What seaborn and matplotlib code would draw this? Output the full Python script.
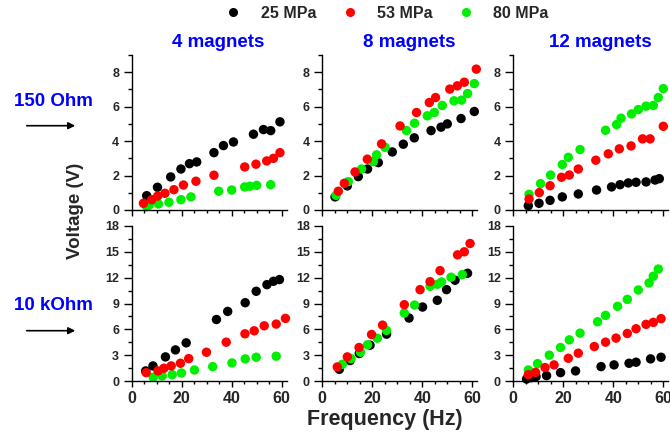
import matplotlib
matplotlib.use('Agg')
import pandas as pd
import seaborn as sns
import matplotlib.pyplot as plt
from matplotlib.lines import Line2D
from matplotlib.ticker import MultipleLocator

pressures = ['25 MPa', '53 MPa', '80 MPa']
colors = ['#000000', '#ff0000', '#00ee00']
magnets = ['4 magnets', '8 magnets', '12 magnets']
loads = ['150 Ohm', '10 kOhm']

# ---- 150 Ohm ----
hz_150_4_25 = [6, 10.3, 15.6, 19.7, 23.1, 26, 32.9, 36.7, 40.7, 48.7, 52.7, 55.6, 59.3]
v_150_4_25 = [0.83, 1.32, 1.92, 2.38, 2.69, 2.79, 3.33, 3.74, 3.95, 4.40, 4.67, 4.61, 5.12]
hz_150_4_53 = [4.7, 8, 10.4, 13.3, 16.9, 20.7, 25.7, 32.9, 45.2, 49.7, 54, 56.7, 59.3]
v_150_4_53 = [0.39, 0.6, 0.81, 0.97, 1.18, 1.45, 1.67, 2.02, 2.5, 2.66, 2.85, 3.0, 3.33]
hz_150_4_80 = [6, 7, 10.7, 14.9, 19.7, 23.7, 34.8, 40, 45.2, 47.3, 50, 55.6]
v_150_4_80 = [0.19, 0.29, 0.35, 0.45, 0.6, 0.76, 1.09, 1.16, 1.34, 1.38, 1.43, 1.47]

hz_150_8_25 = [5.1, 10, 14.4, 18.1, 22.4, 28, 32.4, 36.8, 43.5, 47.5, 50, 55.5, 60.8]
v_150_8_25 = [0.76, 1.40, 1.94, 2.38, 2.75, 3.37, 3.82, 4.19, 4.61, 4.81, 5.0, 5.31, 5.72]
hz_150_8_53 = [6.4, 8.8, 13.1, 18, 23.7, 31.1, 37.7, 42.8, 45.3, 51, 54, 56.8, 61.6]
v_150_8_53 = [1.09, 1.55, 2.21, 2.95, 3.84, 4.88, 5.66, 6.24, 6.53, 7.02, 7.21, 7.42, 8.18]
hz_150_8_80 = [5.5, 10.4, 15.7, 20.4, 21.7, 25.1, 33.7, 36.9, 42, 44.8, 48, 52.7, 55.7, 58.1, 60.8]
v_150_8_80 = [0.85, 1.65, 2.38, 2.81, 3.2, 3.64, 4.61, 5.04, 5.47, 5.66, 6.07, 6.34, 6.38, 6.76, 7.34]

hz_150_12_25 = [6, 10.3, 14.7, 19.6, 26, 33.3, 39.3, 42.7, 46, 49.1, 53.1, 56.7, 58.4]
v_150_12_25 = [0.25, 0.39, 0.56, 0.76, 0.93, 1.16, 1.34, 1.47, 1.57, 1.61, 1.63, 1.74, 1.82]
hz_150_12_53 = [6.3, 10.4, 14.7, 19.3, 22.4, 26, 33, 38, 42.4, 47.1, 51.7, 54.7, 60]
v_150_12_53 = [0.64, 1.01, 1.41, 1.9, 2.03, 2.38, 2.89, 3.26, 3.55, 3.72, 4.13, 4.13, 4.86]
hz_150_12_80 = [6.3, 10.9, 14.9, 19.6, 22, 26.7, 36.9, 41.3, 43.1, 47.3, 50, 53.1, 56, 58, 60]
v_150_12_80 = [0.91, 1.53, 2.03, 2.64, 3.06, 3.51, 4.63, 4.96, 5.33, 5.58, 5.83, 6.03, 6.07, 6.53, 7.05]

# ---- 10 kOhm ----
hz_10k_4_25 = [5.6, 8.5, 13.5, 17.5, 21.8, 33.9, 38.4, 45.4, 49.8, 54.1, 56.7, 59.1]
v_10k_4_25 = [1.17, 1.75, 2.80, 3.61, 4.43, 7.14, 8.08, 9.09, 10.42, 11.19, 11.58, 11.78]
hz_10k_4_53 = [5.8, 10.5, 12.9, 15.8, 19.5, 22.8, 29.9, 37.8, 45.3, 49, 53, 57.8, 61.5]
v_10k_4_53 = [0.97, 1.17, 1.48, 1.75, 2.06, 2.60, 3.34, 4.51, 5.48, 5.83, 6.41, 6.61, 7.27]
hz_10k_4_80 = [8.6, 12.2, 16.2, 19.9, 25.1, 32.4, 40.1, 45.4, 49.8, 57.8]
v_10k_4_80 = [0.43, 0.58, 0.74, 0.93, 1.28, 1.67, 2.10, 2.57, 2.76, 2.88]

hz_10k_8_25 = [6.8, 11.1, 14.8, 19.1, 25.7, 34.7, 40.1, 46, 49.7, 53.1, 58.1]
v_10k_8_25 = [1.36, 2.37, 3.19, 4.16, 5.44, 7.31, 8.59, 9.37, 10.61, 11.70, 12.51]
hz_10k_8_53 = [6, 10, 14.7, 19.7, 24.1, 32.8, 39.1, 43.1, 47.1, 54.1, 56.8, 59.1]
v_10k_8_53 = [1.63, 2.80, 3.89, 5.40, 6.49, 8.86, 10.61, 11.54, 12.82, 14.65, 15.0, 15.97]
hz_10k_8_80 = [8, 11.5, 15.3, 18.1, 22, 25.7, 32.8, 36.9, 43.1, 46, 47.7, 51.5, 56]
v_10k_8_80 = [1.94, 2.60, 3.34, 4.20, 4.97, 5.87, 7.89, 8.82, 11.0, 11.23, 11.50, 12.05, 12.36]

hz_10k_12_25 = [5.3, 7.3, 9.1, 13.3, 18.9, 24.9, 35.1, 40.3, 46.3, 49.1, 54.9, 59.1]
v_10k_12_25 = [0.23, 0.39, 0.51, 0.62, 0.97, 1.17, 1.67, 1.87, 2.06, 2.18, 2.57, 2.76]
hz_10k_12_53 = [6, 8.9, 12.7, 16.3, 22, 26, 32.4, 36.9, 41.1, 45.6, 49.1, 53.1, 56, 59.1]
v_10k_12_53 = [0.74, 1.01, 1.56, 1.87, 2.64, 3.23, 4.0, 4.51, 4.98, 5.52, 6.07, 6.58, 6.81, 7.24]
hz_10k_12_80 = [6, 9.7, 14.4, 18.9, 22.4, 26.7, 33.7, 36.9, 41.7, 45.6, 50, 54.3, 56, 58]
v_10k_12_80 = [1.28, 2.02, 3.0, 3.89, 4.78, 5.56, 6.88, 7.62, 8.67, 9.48, 10.57, 11.39, 12.17, 13.0]

panel_series = {
    ('150 Ohm', '4 magnets'): [(hz_150_4_25, v_150_4_25), (hz_150_4_53, v_150_4_53), (hz_150_4_80, v_150_4_80)],
    ('150 Ohm', '8 magnets'): [(hz_150_8_25, v_150_8_25), (hz_150_8_53, v_150_8_53), (hz_150_8_80, v_150_8_80)],
    ('150 Ohm', '12 magnets'): [(hz_150_12_25, v_150_12_25), (hz_150_12_53, v_150_12_53), (hz_150_12_80, v_150_12_80)],
    ('10 kOhm', '4 magnets'): [(hz_10k_4_25, v_10k_4_25), (hz_10k_4_53, v_10k_4_53), (hz_10k_4_80, v_10k_4_80)],
    ('10 kOhm', '8 magnets'): [(hz_10k_8_25, v_10k_8_25), (hz_10k_8_53, v_10k_8_53), (hz_10k_8_80, v_10k_8_80)],
    ('10 kOhm', '12 magnets'): [(hz_10k_12_25, v_10k_12_25), (hz_10k_12_53, v_10k_12_53), (hz_10k_12_80, v_10k_12_80)],
}

rows = []
for (load, mag), series in panel_series.items():
    for p, (hz, v) in zip(pressures, series):
        for f, volt in zip(hz, v):
            rows.append({'load': load, 'magnets': mag, 'pressure': p, 'freq': f, 'volt': volt})
df = pd.DataFrame(rows)

sns.set_style('ticks')
plt.rcParams['font.family'] = ['Liberation Sans', 'DejaVu Sans']
plt.rcParams['font.weight'] = 'bold'

W, H = 670, 434
fig = plt.figure(figsize=(6.7, 4.34), dpi=100)

col_left = [131.7, 322.3, 513.3]
row_bottom = [210, 381]
ax_w, ax_h = 155, 155
palette = dict(zip(pressures, colors))
draw_order = ['25 MPa', '80 MPa', '53 MPa']

for r, load in enumerate(loads):
    for c, mag in enumerate(magnets):
        ax = fig.add_axes([col_left[c] / W, (H - row_bottom[r]) / H, ax_w / W, ax_h / H])
        sub = df[(df['load'] == load) & (df['magnets'] == mag)]
        for p in draw_order:
            sns.scatterplot(data=sub[sub['pressure'] == p], x='freq', y='volt', color=palette[p],
                            s=46, edgecolor='none', ax=ax, legend=False, clip_on=False)
        ax.set_xlim(0, 62)
        ax.xaxis.set_major_locator(MultipleLocator(20))
        ax.xaxis.set_minor_locator(MultipleLocator(5))
        if r == 0:
            ax.set_ylim(0, 9)
            ax.yaxis.set_major_locator(MultipleLocator(2))
            ax.yaxis.set_minor_locator(MultipleLocator(1))
            ax.tick_params(axis='x', labelbottom=False)
            ax.set_title(mag, color='#0000ff', fontsize=13.5, fontweight='bold', pad=6, x=0.56)
        else:
            ax.set_ylim(0, 18)
            ax.yaxis.set_major_locator(MultipleLocator(3))
            ax.yaxis.set_minor_locator(MultipleLocator(1.5))
        ax.set_xlabel('')
        ax.set_ylabel('')
        sns.despine(ax=ax)
        for s in ('left', 'bottom'):
            ax.spines[s].set_linewidth(1.0)
            ax.spines[s].set_color('black')
        ax.tick_params(axis='y', which='major', length=5.5, width=1, pad=3.5, labelsize=9, color='black')
        ax.tick_params(axis='y', which='minor', length=3, width=1, color='black')
        ax.tick_params(axis='x', which='major', length=4, width=1, pad=3, labelsize=11.5, color='black')
        ax.tick_params(axis='x', which='minor', length=2.5, width=1, color='black')

# row labels with arrows
row_label_y = [101, 305]
arrow_y = [125.7, 330.7]
for load, ly, ay in zip(loads, row_label_y, arrow_y):
    fig.text(53.5 / W, 1 - ly / H, load, color='#0000ff', fontsize=13.5, fontweight='bold',
             ha='center', va='center')
    fig.add_artist(matplotlib.patches.FancyArrowPatch(
        (24 / W, 1 - ay / H), (78 / W, 1 - ay / H), transform=fig.transFigure,
        arrowstyle='-|>', mutation_scale=10, color='black', lw=1.2))

fig.text(76 / W, 1 - 211 / H, 'Voltage (V)', rotation=90, fontsize=13.5, fontweight='bold',
         ha='center', va='center')
fig.text(384.5 / W, 1 - 419 / H, 'Frequency (Hz)', fontsize=15.5, fontweight='bold',
         ha='center', va='center')

handles = [Line2D([], [], marker='o', ls='none', color=col, markersize=5.5) for col in colors]
fig.legend(handles, pressures, loc='center', bbox_to_anchor=(387 / W, 1 - 13 / H), ncol=3,
           frameon=False, fontsize=11.5, handletextpad=1.2, columnspacing=1.6, handlelength=1.0)

fig.savefig('out.png', dpi=100)
